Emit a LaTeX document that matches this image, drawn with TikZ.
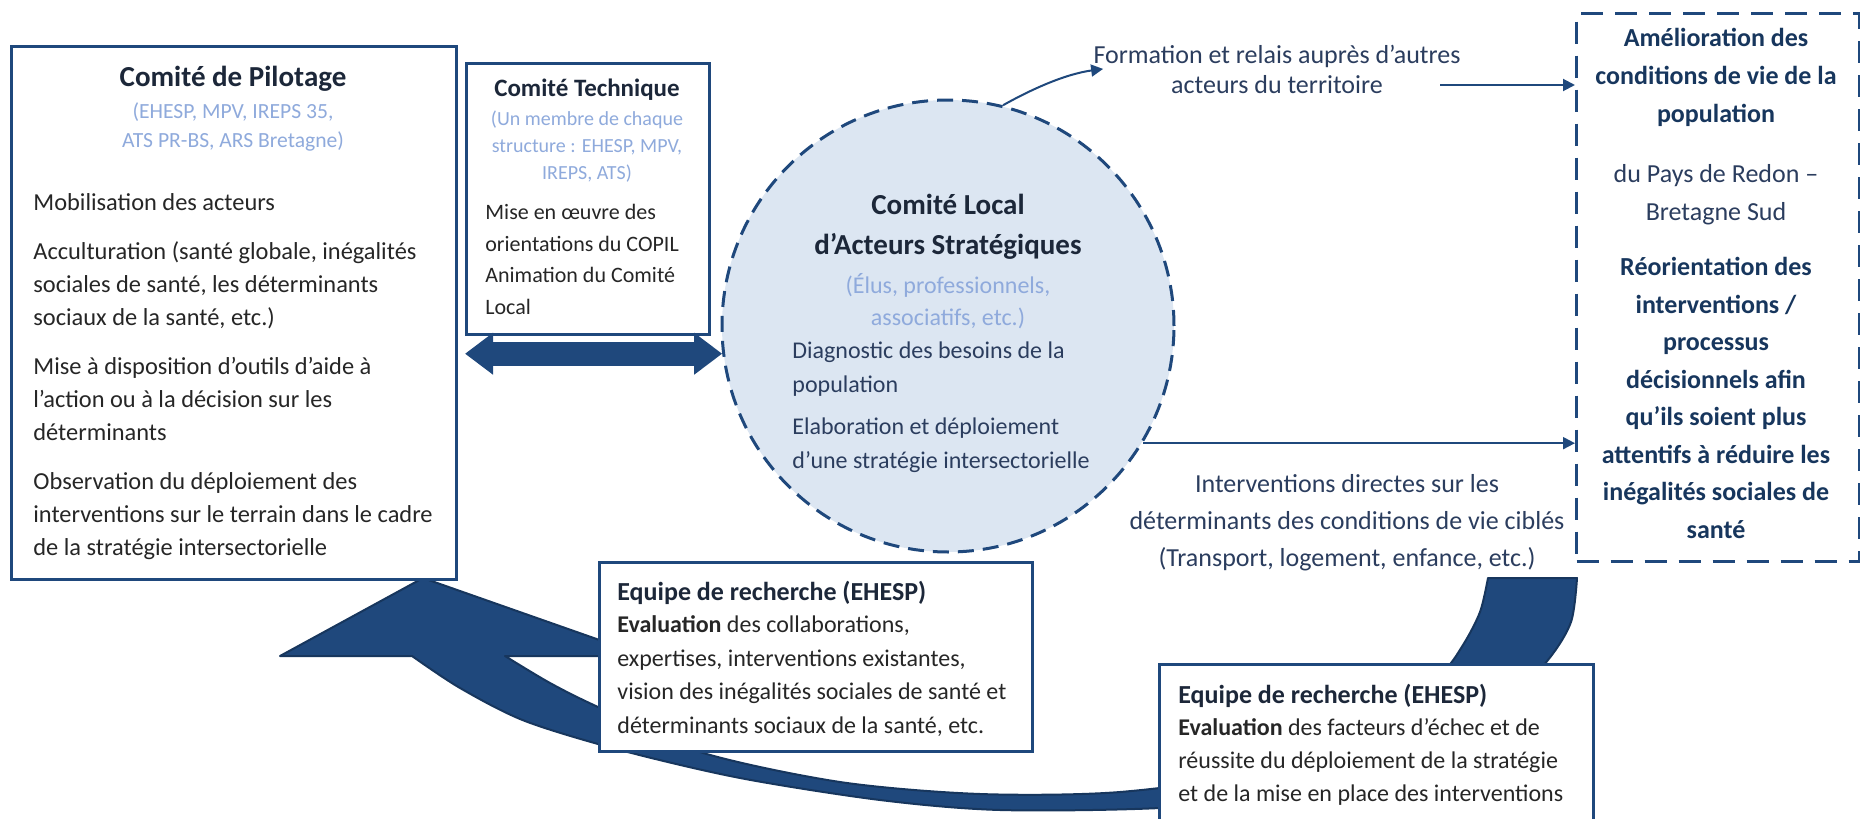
\documentclass[tikz,border=0pt]{standalone}
\usepackage{fontspec}
\setmainfont{Carlito}
\usetikzlibrary{arrows.meta}
\definecolor{navy}{HTML}{1F487C}
\definecolor{navydark}{HTML}{17365D}
\definecolor{circfill}{HTML}{DCE6F2}
\definecolor{paleblue}{HTML}{8FAADC}
\definecolor{inktext}{HTML}{262626}
\definecolor{slatetext}{HTML}{2B3D5E}
\definecolor{titletext}{HTML}{1C2739}
\newcommand{\fsz}[2]{\fontsize{#1}{#2}\selectfont}

\begin{document}
\begin{tikzpicture}[x=0.5pt,y=-0.5pt,
  box/.style={draw=navy,line width=1.5pt,fill=white,inner sep=0pt,anchor=north west},
  dashbox/.style={draw=navy,line width=1.6pt,dash pattern=on 11pt off 6pt,inner sep=0pt,anchor=north west},
  comite/.style={circle,draw=navy,fill=circfill,line width=1.5pt,dash pattern=on 8pt off 4.5pt,inner sep=0pt,minimum size=226pt},
  conn/.style={draw=navy,line width=1pt,-{Triangle[length=6pt,width=6pt]}},
  dblarrow/.style={draw=navy,line width=12pt,{Triangle[length=14pt,width=20pt]}-{Triangle[length=14pt,width=20pt]}},
  bigarrow/.style={fill=navy,draw=navydark,line width=1pt,line join=round},
  txt/.style={inner sep=0pt,text=inktext},
  ttl/.style={inner sep=0pt,text=titletext},
  sub/.style={inner sep=0pt,text=paleblue},
  slate/.style={inner sep=0pt,text=slatetext}]

\useasboundingbox (0,0) rectangle (1860,819);
\clip (0,0) rectangle (1860,819);

\fill[bigarrow] plot[smooth] coordinates {(1577,578) (1571,622) (1548,660) (1500,710) (1420,760) (1300,795) (1160,808) (1000,810) (880,800) (740,778) (620,750) (525,721) (460,688) (412,656)}
  -- (280,656) -- (423,578) -- (645,656)
  -- plot[smooth] coordinates {(505,656) (550,683) (598,707) (700,752) (840,782) (980,794) (1120,792) (1250,772) (1380,720) (1440,675) (1463,645) (1480,612) (1488,578)}
  -- cycle;

\node[box,minimum width=222.5pt,minimum height=266.5pt] (pil) at (10,45) {};
\node[box,minimum width=121.5pt,minimum height=135.5pt] (tech) at (465,62) {};
\node[comite] (circ) at (948,326) {};
\node[dashbox,minimum width=141.5pt,minimum height=274pt] (dash) at (1575,12) {};
\node[box,minimum width=216.5pt,minimum height=94.5pt] (eqa) at (598,561) {};
\node[box,minimum width=217pt,minimum height=100pt] (eqb) at (1158,663) {};

\node[ttl,anchor=base,font=\bfseries\fsz{14.5}{17}] (pilTitle) at (233,86) {Comité de Pilotage};
\node[sub,anchor=base,align=center,font=\fsz{10.8}{14.5}] (pilSub) at (233,147) {(EHESP, MPV, IREPS 35,\\ATS PR-BS, ARS Bretagne)};
\node[txt,anchor=base west,align=left,font=\fsz{12.2}{16.5}] (pilBody) at (33,555) {Mobilisation des acteurs\\[8pt]
  Acculturation (santé globale, inégalités\\sociales de santé, les déterminants\\sociaux de la santé, etc.)\\[8pt]
  Mise à disposition d’outils d’aide à\\l’action ou à la décision sur les\\déterminants\\[8pt]
  Observation du déploiement des\\interventions sur le terrain dans le cadre\\de la stratégie intersectorielle};

\node[ttl,anchor=base,font=\bfseries\fsz{12.5}{15}] (techTitle) at (587,96) {Comité Technique};
\node[sub,anchor=base,align=center,font=\fsz{10}{13.5}] (techSub) at (587,179) {(Un membre de chaque\\structure : EHESP, MPV,\\IREPS, ATS)};
\node[txt,anchor=base west,align=left,font=\fsz{11}{15.75}] (techBody) at (485,314) {Mise en œuvre des\\orientations du COPIL\\Animation du Comité\\Local};

\draw[dblarrow] (tech.south west |- circ.187) -- (circ.187);

\node[ttl,anchor=base,align=center,font=\bfseries\fsz{14.5}{20}] (circTitle) at (948,254) {Comité Local\\d’Acteurs Stratégiques};
\node[sub,anchor=base,align=center,font=\fsz{12}{16}] (circSub) at (948,325) {(Élus, professionnels,\\associatifs, etc.)};
\node[slate,anchor=base west,align=left,font=\fsz{12}{17}] (circBody) at (792,468) {Diagnostic des besoins de la\\population\\[4pt]Elaboration et déploiement\\d’une stratégie intersectorielle};

\node[slate,anchor=base,align=center,font=\fsz{13}{15}] (form) at (1277,93) {Formation et relais auprès d’autres\\acteurs du territoire};
\coordinate (formOut) at (1440,85);
\draw[conn] (circ.76) .. controls (1030,90) and (1065,74) .. ([xshift=5pt]form.west);
\draw[conn] (formOut) -- (formOut -| dash.west);

\node[ttl,anchor=base,align=center,text=navydark,font=\bfseries\fsz{13}{19}] (amTitle) at (1716,122) {Amélioration des\\conditions de vie de la\\population};
\node[slate,anchor=base,align=center,font=\fsz{13}{19}] (amPays) at (1716,220) {du Pays de Redon –\\Bretagne Sud};
\node[ttl,anchor=base,align=center,text=navydark,font=\bfseries\fsz{13}{18.75}] (amReor) at (1716,538) {Réorientation des\\interventions /\\processus\\décisionnels afin\\qu’ils soient plus\\attentifs à réduire les\\inégalités sociales de\\santé};

\draw[conn] (circ.-31) -- (circ.-31 -| dash.west);
\node[slate,anchor=base,align=center,font=\fsz{13}{18.5}] (interv) at (1347,566) {Interventions directes sur les\\déterminants des conditions de vie ciblés\\(Transport, logement, enfance, etc.)};

\node[ttl,anchor=base west,font=\bfseries\fsz{13}{16}] (eqaTitle) at (617,600) {Equipe de recherche (EHESP)};
\node[txt,anchor=base west,align=left,font=\fsz{12}{16.75}] (eqaBody) at (617,733) {\textbf{Evaluation} des collaborations,\\expertises, interventions existantes,\\vision des inégalités sociales de santé et\\déterminants sociaux de la santé, etc.};

\node[ttl,anchor=base west,font=\bfseries\fsz{13}{16}] (eqbTitle) at (1178,703) {Equipe de recherche (EHESP)};
\node[txt,anchor=base west,align=left,font=\fsz{12}{16.5}] (eqbBody) at (1178,801) {\textbf{Evaluation} des facteurs d’échec et de\\réussite du déploiement de la stratégie\\et de la mise en place des interventions};
\end{tikzpicture}
\end{document}
